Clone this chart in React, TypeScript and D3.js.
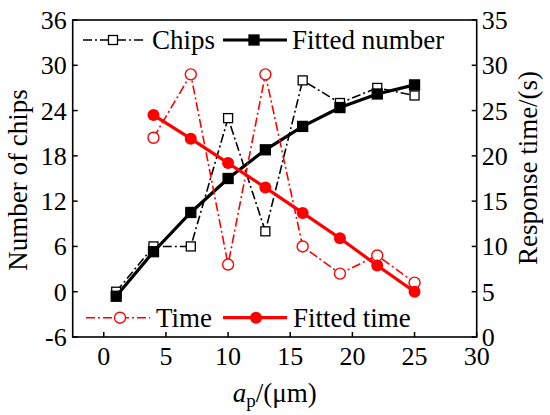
import React from "react";
import * as d3 from "d3";

const xChips = [1, 4, 7, 10, 13, 16, 19, 22, 25];
const chips = [0, 6, 6, 23, 8, 28, 25, 27, 26];
const fittedNumber = [-0.6, 5.3, 10.5, 15, 18.8, 21.9, 24.4, 26.2, 27.4];
const xTime = [4, 7, 10, 13, 16, 19, 22, 25];
const time = [22, 29, 8, 29, 10, 7, 9, 6];
const fittedTime = [24.5, 21.9, 19.2, 16.5, 13.7, 10.9, 7.9, 5.0];

const xTicks = [0, 5, 10, 15, 20, 25, 30];
const yLeftTicks = [-6, 0, 6, 12, 18, 24, 30, 36];
const yRightTicks = [0, 5, 10, 15, 20, 25, 30, 35];

const W = 550;
const H = 415;
const L = 72.7, R = 476.7, T = 20, B = 337;
const RED = "#ff0000";
const DASHDOT = "9,3,2,3";

export default function App() {
  const x = d3.scaleLinear().domain([-2.5, 30]).range([L, R]);
  const yL = d3.scaleLinear().domain([-6, 36]).range([B, T]);
  const yR = d3.scaleLinear().domain([0, 35]).range([B, T]);

  const lineL = d3.line<number>().x((_, i) => x(xChips[i])).y((d) => yL(d));
  const lineR = d3.line<number>().x((_, i) => x(xTime[i])).y((d) => yR(d));

  const sq = (cx: number, cy: number, s: number, fill: string, key: string) => (
    <rect key={key} x={cx - s / 2} y={cy - s / 2} width={s} height={s} fill={fill} stroke="#000" strokeWidth={1.3} />
  );

  return (
    <svg width={W} height={H} style={{ position: "absolute", left: 0, top: 0, background: "#fff" }}>
      <style>{`text, tspan { font-family: "Liberation Serif", "Times New Roman", Times, "DejaVu Serif", serif; }`}</style>
      {/* Chips dash-dot */}
      <path d={lineL(chips) || ""} fill="none" stroke="#000" strokeWidth={1.6} strokeDasharray={DASHDOT} />
      {chips.map((v, i) => sq(x(xChips[i]), yL(v), 9, "#fff", "c" + i))}
      {/* Fitted number */}
      <path d={lineL(fittedNumber) || ""} fill="none" stroke="#000" strokeWidth={3.2} />
      {fittedNumber.map((v, i) => sq(x(xChips[i]), yL(v), 10, "#000", "f" + i))}
      {/* Time */}
      <path d={lineR(time) || ""} fill="none" stroke={RED} strokeWidth={1.6} strokeDasharray={DASHDOT} />
      {time.map((v, i) => (
        <circle key={"t" + i} cx={x(xTime[i])} cy={yR(v)} r={5.5} fill="#fff" stroke={RED} strokeWidth={1.4} />
      ))}
      {/* Fitted time */}
      <path d={lineR(fittedTime) || ""} fill="none" stroke={RED} strokeWidth={3.2} />
      {fittedTime.map((v, i) => (
        <circle key={"ft" + i} cx={x(xTime[i])} cy={yR(v)} r={6} fill={RED} />
      ))}

      {/* Frame */}
      <rect x={L} y={T} width={R - L} height={B - T} fill="none" stroke="#000" strokeWidth={1.6} />

      {/* X ticks */}
      {xTicks.map((t) => (
        <g key={"xt" + t}>
          <line x1={x(t)} x2={x(t)} y1={B} y2={B - 5} stroke="#000" strokeWidth={1.5} />
          <text x={x(t)} y={365} textAnchor="middle" fontSize={26}>{t}</text>
        </g>
      ))}
      {/* Left ticks */}
      {yLeftTicks.map((t) => (
        <g key={"yl" + t}>
          <line x1={L} x2={L + 5} y1={yL(t)} y2={yL(t)} stroke="#000" strokeWidth={1.5} />
          <text x={L - 6} y={yL(t) + 9} textAnchor="end" fontSize={26}>{t}</text>
        </g>
      ))}
      {/* Right ticks */}
      {yRightTicks.map((t) => (
        <g key={"yr" + t}>
          <line x1={R} x2={R - 5} y1={yR(t)} y2={yR(t)} stroke="#000" strokeWidth={1.5} />
          <text x={R + 5} y={yR(t) + 9} textAnchor="start" fontSize={26}>{t}</text>
        </g>
      ))}

      {/* Axis titles */}
      <text transform={`translate(27,180) rotate(-90)`} textAnchor="middle" fontSize={27}>Number of chips</text>
      <text transform={`translate(537,168) rotate(-90)`} textAnchor="middle" fontSize={27}>Response time/(s)</text>
      <text x={(L + R) / 2} y={402} textAnchor="middle" fontSize={27}>
        <tspan fontStyle="italic">a</tspan>
        <tspan fontSize={19} dy={5}>p</tspan>
        <tspan dy={-5}>/(μm)</tspan>
      </text>

      {/* Legend top */}
      <line x1={83} x2={145} y1={40} y2={40} stroke="#000" strokeWidth={1.6} strokeDasharray={DASHDOT} />
      {sq(113, 40, 9, "#fff", "lg1")}
      <text x={152} y={49} fontSize={27}>Chips</text>
      <line x1={223} x2={287} y1={40} y2={40} stroke="#000" strokeWidth={3.2} />
      {sq(254, 40, 10, "#000", "lg2")}
      <text x={292} y={49} fontSize={27}>Fitted number</text>

      {/* Legend bottom */}
      <line x1={86} x2={150} y1={317.7} y2={317.7} stroke={RED} strokeWidth={1.6} strokeDasharray={DASHDOT} />
      <circle cx={120} cy={317.7} r={5.5} fill="#fff" stroke={RED} strokeWidth={1.4} />
      <text x={156} y={327} fontSize={27}>Time</text>
      <line x1={223} x2={287} y1={317.7} y2={317.7} stroke={RED} strokeWidth={3.2} />
      <circle cx={256} cy={317.7} r={6} fill={RED} />
      <text x={293} y={327} fontSize={27}>Fitted time</text>
    </svg>
  );
}
